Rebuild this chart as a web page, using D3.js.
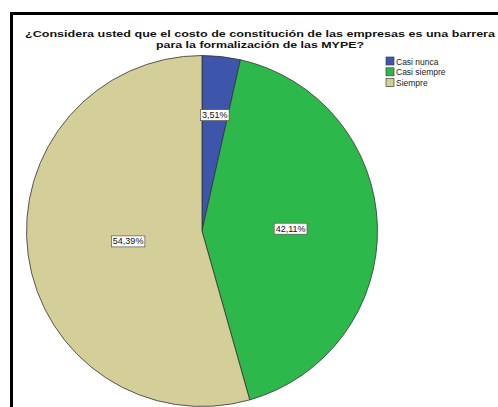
<!DOCTYPE html>
<html>
<head>
<meta charset="utf-8">
<script src="https://cdn.jsdelivr.net/npm/d3@7"></script>
<style>
  body { margin: 0; background: #fff; }
  svg { display: block; font-family: "Liberation Sans", Arial, sans-serif; }
</style>
</head>
<body>
<div id="chart"></div>
<script>
// data
var categories = ["Casi nunca", "Casi siempre", "Siempre"];
var percents = [3.51, 42.11, 54.39];
var colors = ["#3d56ab", "#2db84c", "#d4cf98"];
var titleLines = ["¿Considera usted que el costo de constitución de las empresas es una barrera",
                  "para la formalización de las MYPE?"];
var titleWidths = [470, 208];

var width = 498, height = 407;
var svg = d3.select('#chart').append('svg')
    .attr("width", width)
    .attr("height", height);

// frame (cropped on right and bottom)
svg.append("rect")
    .attr("x", 11.5).attr("y", 13.5)
    .attr("width", 600).attr("height", 600)
    .attr("fill", "none")
    .attr("stroke", "#000")
    .attr("stroke-width", 3);

var title = svg.append("g")
    .attr("font-weight", "bold")
    .attr("font-size", 9.5)
    .attr("fill", "#111");
titleLines.forEach(function(t, i) {
    title.append("text")
        .attr("x", 260 - titleWidths[i] / 2)
        .attr("y", 37 + i * 11)
        .attr("textLength", titleWidths[i])
        .attr("lengthAdjust", "spacingAndGlyphs")
        .text(t);
});

var cx = 202, cy = 231, r = 175.5;
var pie = d3.pie().sort(null).value(function(d) { return d; });
var arcs = pie(percents);
var arc = d3.arc().innerRadius(0).outerRadius(r);

var g = svg.append("g").attr("transform", "translate(" + cx + "," + cy + ")");
g.selectAll("path.slice")
    .data(arcs)
    .enter()
    .append("path")
    .classed("slice", true)
    .attr("d", arc)
    .attr("fill", function(d, i) { return colors[i]; })
    .attr("stroke", "#333")
    .attr("stroke-width", 0.8);

// label positions (SPSS puts them at varying radii)
var labelRadius = [0.665, 0.505, 0.425];
var labels = g.selectAll("g.lbl")
    .data(arcs)
    .enter()
    .append("g")
    .classed("lbl", true)
    .attr("transform", function(d, i) {
        var a = (d.startAngle + d.endAngle) / 2;
        var rr = r * labelRadius[i];
        return "translate(" + (Math.sin(a) * rr) + "," + (-Math.cos(a) * rr) + ")";
    });

labels.append("text")
    .attr("text-anchor", "middle")
    .attr("dy", "0.35em")
    .attr("font-size", 9)
    .attr("fill", "#111")
    .text(function(d) { return d3.format(".2f")(d.data).replace(".", ",") + "%"; })
    .each(function() {
        var bb = this.getBBox();
        d3.select(this.parentNode).insert("rect", "text")
            .attr("x", bb.x - 1.5).attr("y", bb.y - 0.5)
            .attr("width", bb.width + 3).attr("height", bb.height + 1)
            .attr("fill", "#fff")
            .attr("stroke", "#555")
            .attr("stroke-width", 0.7);
    });

// legend
var legend = svg.append("g").attr("transform", "translate(386,57)");
var item = legend.selectAll("g")
    .data(categories)
    .enter()
    .append("g")
    .attr("transform", function(d, i) { return "translate(0," + (i * 10.8) + ")"; });
item.append("rect")
    .attr("width", 8).attr("height", 8)
    .attr("fill", function(d, i) { return colors[i]; })
    .attr("stroke", "#444")
    .attr("stroke-width", 0.7);
item.append("text")
    .attr("x", 10).attr("y", 7.5)
    .attr("font-size", 8.5)
    .attr("fill", "#222")
    .text(function(d) { return d; });
</script>
</body>
</html>
